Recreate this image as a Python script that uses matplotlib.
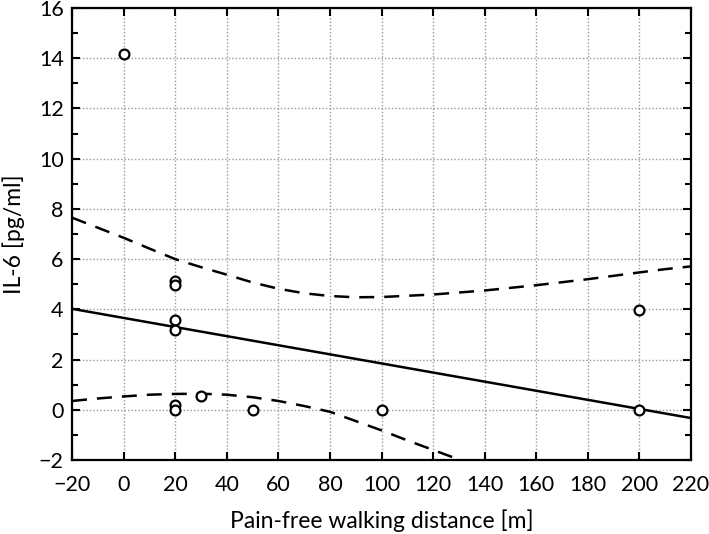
import matplotlib
matplotlib.use('Agg')
import matplotlib.pyplot as plt
from matplotlib.ticker import MultipleLocator
import numpy as np

plt.rcParams['font.family'] = ['Lato', 'DejaVu Sans']

# observed points
dist = [0, 20, 20, 20, 20, 20, 20, 30, 50, 100, 200, 200]
il6 = [14.18, 5.13, 4.96, 3.57, 3.17, 0.2, 0.0, 0.53, -0.02, 0.0, 3.96, -0.02]

# regression line
fit_x = [-20, 220]
fit_y = [4.02, -0.33]

# confidence band
upper_x = [-20, -10, 0, 10, 20, 30, 40, 50, 60, 70, 80, 90, 100, 120, 140, 160, 180, 200, 210, 220]
upper_y = [7.65, 7.25, 6.85, 6.42, 6.0, 5.68, 5.38, 5.07, 4.82, 4.64, 4.53, 4.48, 4.49, 4.59, 4.75, 4.96, 5.2, 5.47, 5.6, 5.71]
lower_x = [-20, -10, 0, 10, 20, 30, 40, 50, 60, 70, 80, 90, 100, 110, 120, 130.5]
lower_y = [0.35, 0.45, 0.53, 0.6, 0.63, 0.64, 0.6, 0.5, 0.35, 0.15, -0.08, -0.45, -0.82, -1.22, -1.6, -2.0]

fig = plt.figure(figsize=(7.09, 5.34), dpi=100)
ax = fig.add_axes([0.1016, 0.1386, 0.8730, 0.8464])

ax.plot(fit_x, fit_y, color='k', lw=1.8, zorder=3)
ax.plot(upper_x, upper_y, color='k', lw=1.8, dashes=(6, 4), zorder=3)
ax.plot(lower_x, lower_y, color='k', lw=1.8, dashes=(6, 4), zorder=3)
ax.scatter(dist, il6, s=50, facecolors='white', edgecolors='k', linewidths=1.6, zorder=4)

ax.set_xlim(-20, 220)
ax.set_ylim(-2, 16)
ax.xaxis.set_major_locator(MultipleLocator(20))
ax.yaxis.set_major_locator(MultipleLocator(2))
ax.yaxis.set_minor_locator(MultipleLocator(1))
ax.grid(True, which='major', color='#999999', linestyle=(0, (1, 1.5)), lw=1.0)
ax.set_axisbelow(True)

ax.tick_params(which='both', direction='in', top=True, right=True, width=1.5,
               labelsize=15.5, colors='k')
ax.tick_params(which='major', length=6)
ax.tick_params(which='minor', length=4)
ax.tick_params(axis='x', pad=11)
ax.tick_params(axis='y', pad=6)
for s in ax.spines.values():
    s.set_linewidth(1.6)

ax.set_xlabel('Pain-free walking distance [m]', fontsize=16.5, labelpad=10)
ax.set_ylabel('IL-6 [pg/ml]', fontsize=16.5, labelpad=10)

plt.savefig('out.png', dpi=100)
